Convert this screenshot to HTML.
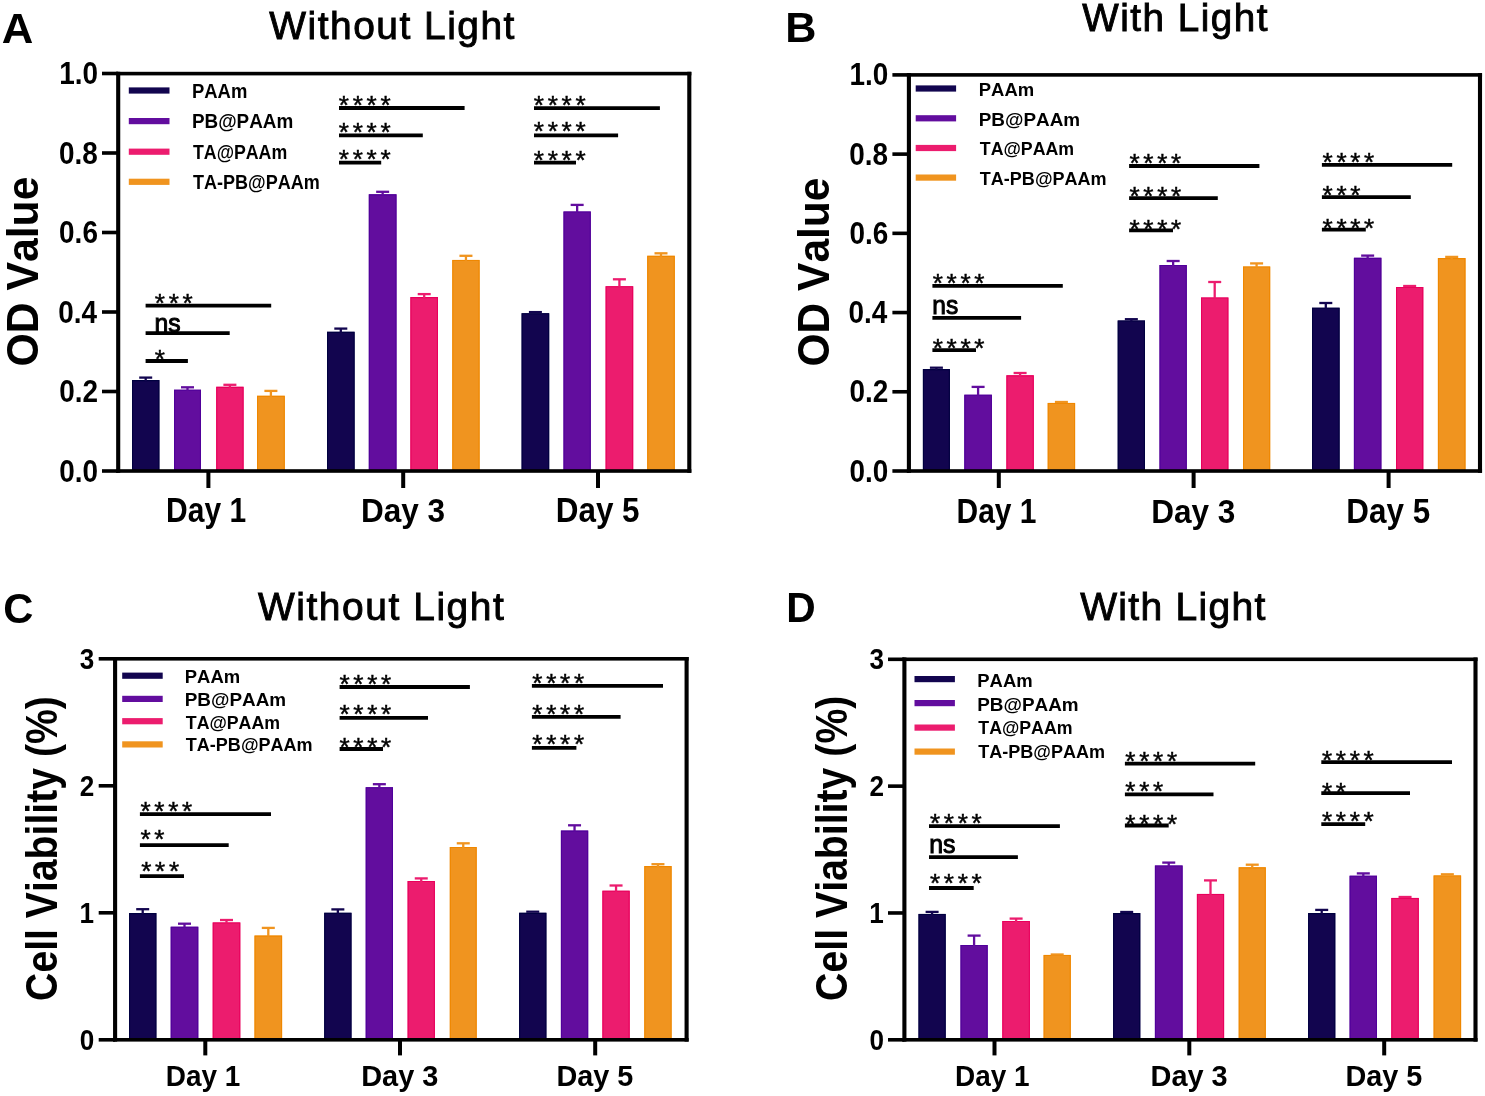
<!DOCTYPE html>
<html><head><meta charset="utf-8"><title>Chart</title>
<style>html,body{margin:0;padding:0;background:#fff;width:1485px;height:1096px;overflow:hidden}
text{font-family:"Liberation Sans",sans-serif;font-kerning:none}</style></head>
<body>
<svg width="1485" height="1096" viewBox="0 0 1485 1096" style="display:block;will-change:transform">
<rect width="1485" height="1096" fill="#fff"/>
<g font-family="Liberation Sans, sans-serif" style="font-kerning:none">
<rect x="132.00" y="380.10" width="27.40" height="90.90" fill="#12054f"/>
<path d="M132.55,471.00 V380.65 H158.85 V471.00" fill="none" stroke="#000040" stroke-width="1.1"/>
<line x1="145.70" y1="377.60" x2="145.70" y2="381.10" stroke="#12054f" stroke-width="2.3" stroke-linecap="butt"/>
<line x1="139.20" y1="377.60" x2="152.20" y2="377.60" stroke="#12054f" stroke-width="2.3" stroke-linecap="butt"/>
<rect x="174.00" y="389.70" width="27.00" height="81.30" fill="#620d9e"/>
<path d="M174.55,471.00 V390.25 H200.45 V471.00" fill="none" stroke="#50009a" stroke-width="1.1"/>
<line x1="187.50" y1="387.30" x2="187.50" y2="390.70" stroke="#620d9e" stroke-width="2.3" stroke-linecap="butt"/>
<line x1="181.00" y1="387.30" x2="194.00" y2="387.30" stroke="#620d9e" stroke-width="2.3" stroke-linecap="butt"/>
<rect x="216.20" y="386.80" width="27.40" height="84.20" fill="#ec1c6e"/>
<path d="M216.75,471.00 V387.35 H243.05 V471.00" fill="none" stroke="#e8005c" stroke-width="1.1"/>
<line x1="229.90" y1="384.80" x2="229.90" y2="387.80" stroke="#ec1c6e" stroke-width="2.3" stroke-linecap="butt"/>
<line x1="223.40" y1="384.80" x2="236.40" y2="384.80" stroke="#ec1c6e" stroke-width="2.3" stroke-linecap="butt"/>
<rect x="257.00" y="395.80" width="27.80" height="75.20" fill="#f0941f"/>
<path d="M257.55,471.00 V396.35 H284.25 V471.00" fill="none" stroke="#ef8700" stroke-width="1.1"/>
<line x1="270.90" y1="390.90" x2="270.90" y2="396.80" stroke="#f0941f" stroke-width="2.3" stroke-linecap="butt"/>
<line x1="264.40" y1="390.90" x2="277.40" y2="390.90" stroke="#f0941f" stroke-width="2.3" stroke-linecap="butt"/>
<rect x="327.00" y="331.80" width="27.60" height="139.20" fill="#12054f"/>
<path d="M327.55,471.00 V332.35 H354.05 V471.00" fill="none" stroke="#000040" stroke-width="1.1"/>
<line x1="340.80" y1="328.60" x2="340.80" y2="332.80" stroke="#12054f" stroke-width="2.3" stroke-linecap="butt"/>
<line x1="334.30" y1="328.60" x2="347.30" y2="328.60" stroke="#12054f" stroke-width="2.3" stroke-linecap="butt"/>
<rect x="368.80" y="194.30" width="27.70" height="276.70" fill="#620d9e"/>
<path d="M369.35,471.00 V194.85 H395.95 V471.00" fill="none" stroke="#50009a" stroke-width="1.1"/>
<line x1="382.65" y1="191.80" x2="382.65" y2="195.30" stroke="#620d9e" stroke-width="2.3" stroke-linecap="butt"/>
<line x1="376.15" y1="191.80" x2="389.15" y2="191.80" stroke="#620d9e" stroke-width="2.3" stroke-linecap="butt"/>
<rect x="410.40" y="297.10" width="27.60" height="173.90" fill="#ec1c6e"/>
<path d="M410.95,471.00 V297.65 H437.45 V471.00" fill="none" stroke="#e8005c" stroke-width="1.1"/>
<line x1="424.20" y1="294.10" x2="424.20" y2="298.10" stroke="#ec1c6e" stroke-width="2.3" stroke-linecap="butt"/>
<line x1="417.70" y1="294.10" x2="430.70" y2="294.10" stroke="#ec1c6e" stroke-width="2.3" stroke-linecap="butt"/>
<rect x="452.30" y="259.90" width="27.30" height="211.10" fill="#f0941f"/>
<path d="M452.85,471.00 V260.45 H479.05 V471.00" fill="none" stroke="#ef8700" stroke-width="1.1"/>
<line x1="465.95" y1="255.80" x2="465.95" y2="260.90" stroke="#f0941f" stroke-width="2.3" stroke-linecap="butt"/>
<line x1="459.45" y1="255.80" x2="472.45" y2="255.80" stroke="#f0941f" stroke-width="2.3" stroke-linecap="butt"/>
<rect x="521.60" y="313.20" width="27.60" height="157.80" fill="#12054f"/>
<path d="M522.15,471.00 V313.75 H548.65 V471.00" fill="none" stroke="#000040" stroke-width="1.1"/>
<line x1="528.90" y1="312.10" x2="541.90" y2="312.10" stroke="#12054f" stroke-width="2.3" stroke-linecap="butt"/>
<rect x="563.50" y="211.50" width="27.30" height="259.50" fill="#620d9e"/>
<path d="M564.05,471.00 V212.05 H590.25 V471.00" fill="none" stroke="#50009a" stroke-width="1.1"/>
<line x1="577.15" y1="204.90" x2="577.15" y2="212.50" stroke="#620d9e" stroke-width="2.3" stroke-linecap="butt"/>
<line x1="570.65" y1="204.90" x2="583.65" y2="204.90" stroke="#620d9e" stroke-width="2.3" stroke-linecap="butt"/>
<rect x="605.60" y="286.20" width="27.60" height="184.80" fill="#ec1c6e"/>
<path d="M606.15,471.00 V286.75 H632.65 V471.00" fill="none" stroke="#e8005c" stroke-width="1.1"/>
<line x1="619.40" y1="279.30" x2="619.40" y2="287.20" stroke="#ec1c6e" stroke-width="2.3" stroke-linecap="butt"/>
<line x1="612.90" y1="279.30" x2="625.90" y2="279.30" stroke="#ec1c6e" stroke-width="2.3" stroke-linecap="butt"/>
<rect x="647.20" y="255.80" width="27.60" height="215.20" fill="#f0941f"/>
<path d="M647.75,471.00 V256.35 H674.25 V471.00" fill="none" stroke="#ef8700" stroke-width="1.1"/>
<line x1="661.00" y1="253.30" x2="661.00" y2="256.80" stroke="#f0941f" stroke-width="2.3" stroke-linecap="butt"/>
<line x1="654.50" y1="253.30" x2="667.50" y2="253.30" stroke="#f0941f" stroke-width="2.3" stroke-linecap="butt"/>
<rect x="116.15" y="71.80" width="575.20" height="3.60" fill="#000"/>
<rect x="116.15" y="469.20" width="575.20" height="3.60" fill="#000"/>
<rect x="116.15" y="71.80" width="4.10" height="401.00" fill="#000"/>
<rect x="687.25" y="71.80" width="4.10" height="401.00" fill="#000"/>
<rect x="102.00" y="469.20" width="16.20" height="3.60" fill="#000"/>
<rect x="102.00" y="389.70" width="16.20" height="3.60" fill="#000"/>
<rect x="102.00" y="310.20" width="16.20" height="3.60" fill="#000"/>
<rect x="102.00" y="230.70" width="16.20" height="3.60" fill="#000"/>
<rect x="102.00" y="151.20" width="16.20" height="3.60" fill="#000"/>
<rect x="102.00" y="71.70" width="16.20" height="3.60" fill="#000"/>
<rect x="206.40" y="471.00" width="4.00" height="17.00" fill="#000"/>
<rect x="401.20" y="471.00" width="4.00" height="17.00" fill="#000"/>
<rect x="596.00" y="471.00" width="4.00" height="17.00" fill="#000"/>
<rect x="128.80" y="87.40" width="40.70" height="6.20" fill="#12054f"/>
<text transform="translate(191.97,97.90) scale(0.9548,1)" font-size="19.33" font-weight="bold">PAAm</text>
<rect x="128.80" y="118.00" width="40.70" height="6.20" fill="#620d9e"/>
<text transform="translate(191.94,128.20) scale(0.9781,1)" font-size="19.33" font-weight="bold">PB@PAAm</text>
<rect x="128.80" y="148.60" width="40.70" height="6.20" fill="#ec1c6e"/>
<text transform="translate(193.00,158.50) scale(0.9189,1)" font-size="19.33" font-weight="bold">TA@PAAm</text>
<rect x="128.80" y="178.70" width="40.70" height="6.20" fill="#f0941f"/>
<text transform="translate(193.00,188.80) scale(0.9331,1)" font-size="19.33" font-weight="bold">TA-PB@PAAm</text>
<line x1="145.60" y1="305.70" x2="271.20" y2="305.70" stroke="#000" stroke-width="3.8" stroke-linecap="butt"/>
<text x="154.83" y="311.78" font-size="26.2" stroke="#000" stroke-width="0.45">*</text>
<text x="168.68" y="311.78" font-size="26.2" stroke="#000" stroke-width="0.45">*</text>
<text x="182.53" y="311.78" font-size="26.2" stroke="#000" stroke-width="0.45">*</text>
<line x1="145.60" y1="333.10" x2="229.70" y2="333.10" stroke="#000" stroke-width="3.8" stroke-linecap="butt"/>
<text transform="translate(154.56,331.70) scale(0.9378,1)" font-size="26.39" font-weight="normal" fill="#000" stroke="#000" stroke-width="1.0">ns</text>
<line x1="145.60" y1="361.00" x2="187.90" y2="361.00" stroke="#000" stroke-width="3.8" stroke-linecap="butt"/>
<text x="154.83" y="368.28" font-size="26.2" stroke="#000" stroke-width="0.45">*</text>
<line x1="339.00" y1="108.00" x2="464.60" y2="108.00" stroke="#000" stroke-width="3.8" stroke-linecap="butt"/>
<text x="338.83" y="113.78" font-size="26.2" stroke="#000" stroke-width="0.45">*</text>
<text x="352.68" y="113.78" font-size="26.2" stroke="#000" stroke-width="0.45">*</text>
<text x="366.53" y="113.78" font-size="26.2" stroke="#000" stroke-width="0.45">*</text>
<text x="380.38" y="113.78" font-size="26.2" stroke="#000" stroke-width="0.45">*</text>
<line x1="339.00" y1="135.40" x2="422.80" y2="135.40" stroke="#000" stroke-width="3.8" stroke-linecap="butt"/>
<text x="338.83" y="140.68" font-size="26.2" stroke="#000" stroke-width="0.45">*</text>
<text x="352.68" y="140.68" font-size="26.2" stroke="#000" stroke-width="0.45">*</text>
<text x="366.53" y="140.68" font-size="26.2" stroke="#000" stroke-width="0.45">*</text>
<text x="380.38" y="140.68" font-size="26.2" stroke="#000" stroke-width="0.45">*</text>
<line x1="339.00" y1="162.70" x2="381.20" y2="162.70" stroke="#000" stroke-width="3.8" stroke-linecap="butt"/>
<text x="338.83" y="168.28" font-size="26.2" stroke="#000" stroke-width="0.45">*</text>
<text x="352.68" y="168.28" font-size="26.2" stroke="#000" stroke-width="0.45">*</text>
<text x="366.53" y="168.28" font-size="26.2" stroke="#000" stroke-width="0.45">*</text>
<text x="380.38" y="168.28" font-size="26.2" stroke="#000" stroke-width="0.45">*</text>
<line x1="534.00" y1="108.10" x2="659.90" y2="108.10" stroke="#000" stroke-width="3.8" stroke-linecap="butt"/>
<text x="533.83" y="113.58" font-size="26.2" stroke="#000" stroke-width="0.45">*</text>
<text x="547.68" y="113.58" font-size="26.2" stroke="#000" stroke-width="0.45">*</text>
<text x="561.53" y="113.58" font-size="26.2" stroke="#000" stroke-width="0.45">*</text>
<text x="575.38" y="113.58" font-size="26.2" stroke="#000" stroke-width="0.45">*</text>
<line x1="534.00" y1="135.30" x2="618.10" y2="135.30" stroke="#000" stroke-width="3.8" stroke-linecap="butt"/>
<text x="533.83" y="140.48" font-size="26.2" stroke="#000" stroke-width="0.45">*</text>
<text x="547.68" y="140.48" font-size="26.2" stroke="#000" stroke-width="0.45">*</text>
<text x="561.53" y="140.48" font-size="26.2" stroke="#000" stroke-width="0.45">*</text>
<text x="575.38" y="140.48" font-size="26.2" stroke="#000" stroke-width="0.45">*</text>
<line x1="534.00" y1="162.70" x2="576.00" y2="162.70" stroke="#000" stroke-width="3.8" stroke-linecap="butt"/>
<text x="533.83" y="168.58" font-size="26.2" stroke="#000" stroke-width="0.45">*</text>
<text x="547.68" y="168.58" font-size="26.2" stroke="#000" stroke-width="0.45">*</text>
<text x="561.53" y="168.58" font-size="26.2" stroke="#000" stroke-width="0.45">*</text>
<text x="575.38" y="168.58" font-size="26.2" stroke="#000" stroke-width="0.45">*</text>
<rect x="922.90" y="369.10" width="27.00" height="101.90" fill="#12054f"/>
<path d="M923.45,471.00 V369.65 H949.35 V471.00" fill="none" stroke="#000040" stroke-width="1.1"/>
<line x1="936.40" y1="367.70" x2="936.40" y2="370.10" stroke="#12054f" stroke-width="2.3" stroke-linecap="butt"/>
<line x1="929.90" y1="367.70" x2="942.90" y2="367.70" stroke="#12054f" stroke-width="2.3" stroke-linecap="butt"/>
<rect x="964.30" y="394.70" width="27.60" height="76.30" fill="#620d9e"/>
<path d="M964.85,471.00 V395.25 H991.35 V471.00" fill="none" stroke="#50009a" stroke-width="1.1"/>
<line x1="978.10" y1="386.90" x2="978.10" y2="395.70" stroke="#620d9e" stroke-width="2.3" stroke-linecap="butt"/>
<line x1="971.60" y1="386.90" x2="984.60" y2="386.90" stroke="#620d9e" stroke-width="2.3" stroke-linecap="butt"/>
<rect x="1006.40" y="375.30" width="27.40" height="95.70" fill="#ec1c6e"/>
<path d="M1006.95,471.00 V375.85 H1033.25 V471.00" fill="none" stroke="#e8005c" stroke-width="1.1"/>
<line x1="1020.10" y1="373.00" x2="1020.10" y2="376.30" stroke="#ec1c6e" stroke-width="2.3" stroke-linecap="butt"/>
<line x1="1013.60" y1="373.00" x2="1026.60" y2="373.00" stroke="#ec1c6e" stroke-width="2.3" stroke-linecap="butt"/>
<rect x="1047.70" y="402.90" width="27.40" height="68.10" fill="#f0941f"/>
<path d="M1048.25,471.00 V403.45 H1074.55 V471.00" fill="none" stroke="#ef8700" stroke-width="1.1"/>
<line x1="1054.90" y1="402.00" x2="1067.90" y2="402.00" stroke="#f0941f" stroke-width="2.3" stroke-linecap="butt"/>
<rect x="1117.70" y="320.50" width="27.30" height="150.50" fill="#12054f"/>
<path d="M1118.25,471.00 V321.05 H1144.45 V471.00" fill="none" stroke="#000040" stroke-width="1.1"/>
<line x1="1131.35" y1="319.20" x2="1131.35" y2="321.50" stroke="#12054f" stroke-width="2.3" stroke-linecap="butt"/>
<line x1="1124.85" y1="319.20" x2="1137.85" y2="319.20" stroke="#12054f" stroke-width="2.3" stroke-linecap="butt"/>
<rect x="1159.50" y="265.00" width="27.30" height="206.00" fill="#620d9e"/>
<path d="M1160.05,471.00 V265.55 H1186.25 V471.00" fill="none" stroke="#50009a" stroke-width="1.1"/>
<line x1="1173.15" y1="261.00" x2="1173.15" y2="266.00" stroke="#620d9e" stroke-width="2.3" stroke-linecap="butt"/>
<line x1="1166.65" y1="261.00" x2="1179.65" y2="261.00" stroke="#620d9e" stroke-width="2.3" stroke-linecap="butt"/>
<rect x="1201.00" y="297.50" width="27.40" height="173.50" fill="#ec1c6e"/>
<path d="M1201.55,471.00 V298.05 H1227.85 V471.00" fill="none" stroke="#e8005c" stroke-width="1.1"/>
<line x1="1214.70" y1="282.00" x2="1214.70" y2="298.50" stroke="#ec1c6e" stroke-width="2.3" stroke-linecap="butt"/>
<line x1="1208.20" y1="282.00" x2="1221.20" y2="282.00" stroke="#ec1c6e" stroke-width="2.3" stroke-linecap="butt"/>
<rect x="1243.00" y="266.50" width="27.20" height="204.50" fill="#f0941f"/>
<path d="M1243.55,471.00 V267.05 H1269.65 V471.00" fill="none" stroke="#ef8700" stroke-width="1.1"/>
<line x1="1256.60" y1="263.40" x2="1256.60" y2="267.50" stroke="#f0941f" stroke-width="2.3" stroke-linecap="butt"/>
<line x1="1250.10" y1="263.40" x2="1263.10" y2="263.40" stroke="#f0941f" stroke-width="2.3" stroke-linecap="butt"/>
<rect x="1312.00" y="307.70" width="27.60" height="163.30" fill="#12054f"/>
<path d="M1312.55,471.00 V308.25 H1339.05 V471.00" fill="none" stroke="#000040" stroke-width="1.1"/>
<line x1="1325.80" y1="303.00" x2="1325.80" y2="308.70" stroke="#12054f" stroke-width="2.3" stroke-linecap="butt"/>
<line x1="1319.30" y1="303.00" x2="1332.30" y2="303.00" stroke="#12054f" stroke-width="2.3" stroke-linecap="butt"/>
<rect x="1353.90" y="257.80" width="27.50" height="213.20" fill="#620d9e"/>
<path d="M1354.45,471.00 V258.35 H1380.85 V471.00" fill="none" stroke="#50009a" stroke-width="1.1"/>
<line x1="1367.65" y1="255.60" x2="1367.65" y2="258.80" stroke="#620d9e" stroke-width="2.3" stroke-linecap="butt"/>
<line x1="1361.15" y1="255.60" x2="1374.15" y2="255.60" stroke="#620d9e" stroke-width="2.3" stroke-linecap="butt"/>
<rect x="1396.00" y="287.00" width="27.30" height="184.00" fill="#ec1c6e"/>
<path d="M1396.55,471.00 V287.55 H1422.75 V471.00" fill="none" stroke="#e8005c" stroke-width="1.1"/>
<line x1="1403.15" y1="286.00" x2="1416.15" y2="286.00" stroke="#ec1c6e" stroke-width="2.3" stroke-linecap="butt"/>
<rect x="1437.90" y="258.10" width="27.60" height="212.90" fill="#f0941f"/>
<path d="M1438.45,471.00 V258.65 H1464.95 V471.00" fill="none" stroke="#ef8700" stroke-width="1.1"/>
<line x1="1451.70" y1="256.90" x2="1451.70" y2="259.10" stroke="#f0941f" stroke-width="2.3" stroke-linecap="butt"/>
<line x1="1445.20" y1="256.90" x2="1458.20" y2="256.90" stroke="#f0941f" stroke-width="2.3" stroke-linecap="butt"/>
<rect x="906.85" y="73.10" width="575.20" height="3.60" fill="#000"/>
<rect x="906.85" y="469.20" width="575.20" height="3.60" fill="#000"/>
<rect x="906.85" y="73.10" width="4.10" height="399.70" fill="#000"/>
<rect x="1477.95" y="73.10" width="4.10" height="399.70" fill="#000"/>
<rect x="892.40" y="469.20" width="16.50" height="3.60" fill="#000"/>
<rect x="892.40" y="389.98" width="16.50" height="3.60" fill="#000"/>
<rect x="892.40" y="310.76" width="16.50" height="3.60" fill="#000"/>
<rect x="892.40" y="231.54" width="16.50" height="3.60" fill="#000"/>
<rect x="892.40" y="152.32" width="16.50" height="3.60" fill="#000"/>
<rect x="892.40" y="73.10" width="16.50" height="3.60" fill="#000"/>
<rect x="996.80" y="471.00" width="4.00" height="17.00" fill="#000"/>
<rect x="1191.60" y="471.00" width="4.00" height="17.00" fill="#000"/>
<rect x="1386.60" y="471.00" width="4.00" height="17.00" fill="#000"/>
<rect x="915.70" y="85.40" width="40.40" height="6.20" fill="#12054f"/>
<text transform="translate(978.77,95.80) scale(0.9620,1)" font-size="19.19" font-weight="bold">PAAm</text>
<rect x="915.70" y="115.20" width="40.40" height="6.20" fill="#620d9e"/>
<text transform="translate(978.74,125.50) scale(0.9855,1)" font-size="19.19" font-weight="bold">PB@PAAm</text>
<rect x="915.70" y="144.90" width="40.40" height="6.20" fill="#ec1c6e"/>
<text transform="translate(979.80,155.20) scale(0.9259,1)" font-size="19.19" font-weight="bold">TA@PAAm</text>
<rect x="915.70" y="174.50" width="40.40" height="6.20" fill="#f0941f"/>
<text transform="translate(979.80,184.90) scale(0.9402,1)" font-size="19.19" font-weight="bold">TA-PB@PAAm</text>
<line x1="932.40" y1="285.90" x2="1062.80" y2="285.90" stroke="#000" stroke-width="3.8" stroke-linecap="butt"/>
<text x="932.73" y="291.78" font-size="26.2" stroke="#000" stroke-width="0.45">*</text>
<text x="946.58" y="291.78" font-size="26.2" stroke="#000" stroke-width="0.45">*</text>
<text x="960.43" y="291.78" font-size="26.2" stroke="#000" stroke-width="0.45">*</text>
<text x="974.28" y="291.78" font-size="26.2" stroke="#000" stroke-width="0.45">*</text>
<line x1="932.40" y1="317.80" x2="1021.10" y2="317.80" stroke="#000" stroke-width="3.8" stroke-linecap="butt"/>
<text transform="translate(932.37,313.90) scale(0.9233,1)" font-size="26.58" font-weight="normal" fill="#000" stroke="#000" stroke-width="1.0">ns</text>
<line x1="932.40" y1="350.20" x2="976.00" y2="350.20" stroke="#000" stroke-width="3.8" stroke-linecap="butt"/>
<text x="932.73" y="356.98" font-size="26.2" stroke="#000" stroke-width="0.45">*</text>
<text x="946.58" y="356.98" font-size="26.2" stroke="#000" stroke-width="0.45">*</text>
<text x="960.43" y="356.98" font-size="26.2" stroke="#000" stroke-width="0.45">*</text>
<text x="974.28" y="356.98" font-size="26.2" stroke="#000" stroke-width="0.45">*</text>
<line x1="1129.10" y1="166.00" x2="1259.40" y2="166.00" stroke="#000" stroke-width="3.8" stroke-linecap="butt"/>
<text x="1129.43" y="172.38" font-size="26.2" stroke="#000" stroke-width="0.45">*</text>
<text x="1143.28" y="172.38" font-size="26.2" stroke="#000" stroke-width="0.45">*</text>
<text x="1157.13" y="172.38" font-size="26.2" stroke="#000" stroke-width="0.45">*</text>
<text x="1170.98" y="172.38" font-size="26.2" stroke="#000" stroke-width="0.45">*</text>
<line x1="1129.10" y1="198.20" x2="1217.80" y2="198.20" stroke="#000" stroke-width="3.8" stroke-linecap="butt"/>
<text x="1129.43" y="205.28" font-size="26.2" stroke="#000" stroke-width="0.45">*</text>
<text x="1143.28" y="205.28" font-size="26.2" stroke="#000" stroke-width="0.45">*</text>
<text x="1157.13" y="205.28" font-size="26.2" stroke="#000" stroke-width="0.45">*</text>
<text x="1170.98" y="205.28" font-size="26.2" stroke="#000" stroke-width="0.45">*</text>
<line x1="1129.10" y1="230.40" x2="1173.00" y2="230.40" stroke="#000" stroke-width="3.8" stroke-linecap="butt"/>
<text x="1129.43" y="238.08" font-size="26.2" stroke="#000" stroke-width="0.45">*</text>
<text x="1143.28" y="238.08" font-size="26.2" stroke="#000" stroke-width="0.45">*</text>
<text x="1157.13" y="238.08" font-size="26.2" stroke="#000" stroke-width="0.45">*</text>
<text x="1170.98" y="238.08" font-size="26.2" stroke="#000" stroke-width="0.45">*</text>
<line x1="1321.90" y1="164.90" x2="1452.20" y2="164.90" stroke="#000" stroke-width="3.8" stroke-linecap="butt"/>
<text x="1322.53" y="171.18" font-size="26.2" stroke="#000" stroke-width="0.45">*</text>
<text x="1336.38" y="171.18" font-size="26.2" stroke="#000" stroke-width="0.45">*</text>
<text x="1350.23" y="171.18" font-size="26.2" stroke="#000" stroke-width="0.45">*</text>
<text x="1364.08" y="171.18" font-size="26.2" stroke="#000" stroke-width="0.45">*</text>
<line x1="1321.90" y1="197.10" x2="1410.80" y2="197.10" stroke="#000" stroke-width="3.8" stroke-linecap="butt"/>
<text x="1322.53" y="204.38" font-size="26.2" stroke="#000" stroke-width="0.45">*</text>
<text x="1336.38" y="204.38" font-size="26.2" stroke="#000" stroke-width="0.45">*</text>
<text x="1350.23" y="204.38" font-size="26.2" stroke="#000" stroke-width="0.45">*</text>
<line x1="1321.90" y1="229.60" x2="1365.80" y2="229.60" stroke="#000" stroke-width="3.8" stroke-linecap="butt"/>
<text x="1322.53" y="236.98" font-size="26.2" stroke="#000" stroke-width="0.45">*</text>
<text x="1336.38" y="236.98" font-size="26.2" stroke="#000" stroke-width="0.45">*</text>
<text x="1350.23" y="236.98" font-size="26.2" stroke="#000" stroke-width="0.45">*</text>
<text x="1364.08" y="236.98" font-size="26.2" stroke="#000" stroke-width="0.45">*</text>
<rect x="129.00" y="913.10" width="27.40" height="126.70" fill="#12054f"/>
<path d="M129.55,1039.80 V913.65 H155.85 V1039.80" fill="none" stroke="#000040" stroke-width="1.1"/>
<line x1="142.70" y1="909.20" x2="142.70" y2="914.10" stroke="#12054f" stroke-width="2.3" stroke-linecap="butt"/>
<line x1="136.20" y1="909.20" x2="149.20" y2="909.20" stroke="#12054f" stroke-width="2.3" stroke-linecap="butt"/>
<rect x="170.70" y="926.70" width="27.60" height="113.10" fill="#620d9e"/>
<path d="M171.25,1039.80 V927.25 H197.75 V1039.80" fill="none" stroke="#50009a" stroke-width="1.1"/>
<line x1="184.50" y1="923.70" x2="184.50" y2="927.70" stroke="#620d9e" stroke-width="2.3" stroke-linecap="butt"/>
<line x1="178.00" y1="923.70" x2="191.00" y2="923.70" stroke="#620d9e" stroke-width="2.3" stroke-linecap="butt"/>
<rect x="212.70" y="922.40" width="27.60" height="117.40" fill="#ec1c6e"/>
<path d="M213.25,1039.80 V922.95 H239.75 V1039.80" fill="none" stroke="#e8005c" stroke-width="1.1"/>
<line x1="226.50" y1="920.00" x2="226.50" y2="923.40" stroke="#ec1c6e" stroke-width="2.3" stroke-linecap="butt"/>
<line x1="220.00" y1="920.00" x2="233.00" y2="920.00" stroke="#ec1c6e" stroke-width="2.3" stroke-linecap="butt"/>
<rect x="254.50" y="935.60" width="27.60" height="104.20" fill="#f0941f"/>
<path d="M255.05,1039.80 V936.15 H281.55 V1039.80" fill="none" stroke="#ef8700" stroke-width="1.1"/>
<line x1="268.30" y1="927.90" x2="268.30" y2="936.60" stroke="#f0941f" stroke-width="2.3" stroke-linecap="butt"/>
<line x1="261.80" y1="927.90" x2="274.80" y2="927.90" stroke="#f0941f" stroke-width="2.3" stroke-linecap="butt"/>
<rect x="324.20" y="912.80" width="27.30" height="127.00" fill="#12054f"/>
<path d="M324.75,1039.80 V913.35 H350.95 V1039.80" fill="none" stroke="#000040" stroke-width="1.1"/>
<line x1="337.85" y1="909.40" x2="337.85" y2="913.80" stroke="#12054f" stroke-width="2.3" stroke-linecap="butt"/>
<line x1="331.35" y1="909.40" x2="344.35" y2="909.40" stroke="#12054f" stroke-width="2.3" stroke-linecap="butt"/>
<rect x="365.70" y="787.20" width="27.30" height="252.60" fill="#620d9e"/>
<path d="M366.25,1039.80 V787.75 H392.45 V1039.80" fill="none" stroke="#50009a" stroke-width="1.1"/>
<line x1="379.35" y1="784.20" x2="379.35" y2="788.20" stroke="#620d9e" stroke-width="2.3" stroke-linecap="butt"/>
<line x1="372.85" y1="784.20" x2="385.85" y2="784.20" stroke="#620d9e" stroke-width="2.3" stroke-linecap="butt"/>
<rect x="407.60" y="881.00" width="27.30" height="158.80" fill="#ec1c6e"/>
<path d="M408.15,1039.80 V881.55 H434.35 V1039.80" fill="none" stroke="#e8005c" stroke-width="1.1"/>
<line x1="421.25" y1="878.40" x2="421.25" y2="882.00" stroke="#ec1c6e" stroke-width="2.3" stroke-linecap="butt"/>
<line x1="414.75" y1="878.40" x2="427.75" y2="878.40" stroke="#ec1c6e" stroke-width="2.3" stroke-linecap="butt"/>
<rect x="449.80" y="847.00" width="26.90" height="192.80" fill="#f0941f"/>
<path d="M450.35,1039.80 V847.55 H476.15 V1039.80" fill="none" stroke="#ef8700" stroke-width="1.1"/>
<line x1="463.25" y1="843.30" x2="463.25" y2="848.00" stroke="#f0941f" stroke-width="2.3" stroke-linecap="butt"/>
<line x1="456.75" y1="843.30" x2="469.75" y2="843.30" stroke="#f0941f" stroke-width="2.3" stroke-linecap="butt"/>
<rect x="519.10" y="912.80" width="27.30" height="127.00" fill="#12054f"/>
<path d="M519.65,1039.80 V913.35 H545.85 V1039.80" fill="none" stroke="#000040" stroke-width="1.1"/>
<line x1="526.25" y1="911.70" x2="539.25" y2="911.70" stroke="#12054f" stroke-width="2.3" stroke-linecap="butt"/>
<rect x="560.90" y="830.60" width="27.30" height="209.20" fill="#620d9e"/>
<path d="M561.45,1039.80 V831.15 H587.65 V1039.80" fill="none" stroke="#50009a" stroke-width="1.1"/>
<line x1="574.55" y1="825.30" x2="574.55" y2="831.60" stroke="#620d9e" stroke-width="2.3" stroke-linecap="butt"/>
<line x1="568.05" y1="825.30" x2="581.05" y2="825.30" stroke="#620d9e" stroke-width="2.3" stroke-linecap="butt"/>
<rect x="602.40" y="890.70" width="27.30" height="149.10" fill="#ec1c6e"/>
<path d="M602.95,1039.80 V891.25 H629.15 V1039.80" fill="none" stroke="#e8005c" stroke-width="1.1"/>
<line x1="616.05" y1="885.50" x2="616.05" y2="891.70" stroke="#ec1c6e" stroke-width="2.3" stroke-linecap="butt"/>
<line x1="609.55" y1="885.50" x2="622.55" y2="885.50" stroke="#ec1c6e" stroke-width="2.3" stroke-linecap="butt"/>
<rect x="644.30" y="866.10" width="27.30" height="173.70" fill="#f0941f"/>
<path d="M644.85,1039.80 V866.65 H671.05 V1039.80" fill="none" stroke="#ef8700" stroke-width="1.1"/>
<line x1="657.95" y1="864.20" x2="657.95" y2="867.10" stroke="#f0941f" stroke-width="2.3" stroke-linecap="butt"/>
<line x1="651.45" y1="864.20" x2="664.45" y2="864.20" stroke="#f0941f" stroke-width="2.3" stroke-linecap="butt"/>
<rect x="113.05" y="657.00" width="575.60" height="3.60" fill="#000"/>
<rect x="113.05" y="1038.00" width="575.60" height="3.60" fill="#000"/>
<rect x="113.05" y="657.00" width="4.10" height="384.60" fill="#000"/>
<rect x="684.55" y="657.00" width="4.10" height="384.60" fill="#000"/>
<rect x="98.70" y="1038.00" width="16.40" height="3.60" fill="#000"/>
<rect x="98.70" y="911.00" width="16.40" height="3.60" fill="#000"/>
<rect x="98.70" y="784.00" width="16.40" height="3.60" fill="#000"/>
<rect x="98.70" y="657.00" width="16.40" height="3.60" fill="#000"/>
<rect x="203.30" y="1039.80" width="4.00" height="15.60" fill="#000"/>
<rect x="398.00" y="1039.80" width="4.00" height="15.60" fill="#000"/>
<rect x="593.20" y="1039.80" width="4.00" height="15.60" fill="#000"/>
<rect x="122.20" y="672.60" width="40.50" height="6.20" fill="#12054f"/>
<text transform="translate(184.77,682.90) scale(1.0324,1)" font-size="17.88" font-weight="bold">PAAm</text>
<rect x="122.20" y="695.80" width="40.50" height="6.20" fill="#620d9e"/>
<text transform="translate(184.74,705.70) scale(1.0576,1)" font-size="17.88" font-weight="bold">PB@PAAm</text>
<rect x="122.20" y="718.10" width="40.50" height="6.20" fill="#ec1c6e"/>
<text transform="translate(185.80,728.50) scale(0.9936,1)" font-size="17.88" font-weight="bold">TA@PAAm</text>
<rect x="122.20" y="741.30" width="40.50" height="6.20" fill="#f0941f"/>
<text transform="translate(185.80,751.30) scale(1.0090,1)" font-size="17.88" font-weight="bold">TA-PB@PAAm</text>
<line x1="139.90" y1="814.10" x2="271.00" y2="814.10" stroke="#000" stroke-width="3.8" stroke-linecap="butt"/>
<text x="140.43" y="820.38" font-size="26.2" stroke="#000" stroke-width="0.45">*</text>
<text x="154.28" y="820.38" font-size="26.2" stroke="#000" stroke-width="0.45">*</text>
<text x="168.13" y="820.38" font-size="26.2" stroke="#000" stroke-width="0.45">*</text>
<text x="181.98" y="820.38" font-size="26.2" stroke="#000" stroke-width="0.45">*</text>
<line x1="139.90" y1="845.20" x2="228.70" y2="845.20" stroke="#000" stroke-width="3.8" stroke-linecap="butt"/>
<text x="140.43" y="848.18" font-size="26.2" stroke="#000" stroke-width="0.45">*</text>
<text x="154.28" y="848.18" font-size="26.2" stroke="#000" stroke-width="0.45">*</text>
<line x1="139.90" y1="876.20" x2="184.00" y2="876.20" stroke="#000" stroke-width="3.8" stroke-linecap="butt"/>
<text x="141.23" y="880.28" font-size="26.2" stroke="#000" stroke-width="0.45">*</text>
<text x="155.08" y="880.28" font-size="26.2" stroke="#000" stroke-width="0.45">*</text>
<text x="168.93" y="880.28" font-size="26.2" stroke="#000" stroke-width="0.45">*</text>
<line x1="339.60" y1="687.00" x2="469.90" y2="687.00" stroke="#000" stroke-width="3.8" stroke-linecap="butt"/>
<text x="339.43" y="693.18" font-size="26.2" stroke="#000" stroke-width="0.45">*</text>
<text x="353.28" y="693.18" font-size="26.2" stroke="#000" stroke-width="0.45">*</text>
<text x="367.13" y="693.18" font-size="26.2" stroke="#000" stroke-width="0.45">*</text>
<text x="380.98" y="693.18" font-size="26.2" stroke="#000" stroke-width="0.45">*</text>
<line x1="339.60" y1="717.80" x2="428.00" y2="717.80" stroke="#000" stroke-width="3.8" stroke-linecap="butt"/>
<text x="339.43" y="723.48" font-size="26.2" stroke="#000" stroke-width="0.45">*</text>
<text x="353.28" y="723.48" font-size="26.2" stroke="#000" stroke-width="0.45">*</text>
<text x="367.13" y="723.48" font-size="26.2" stroke="#000" stroke-width="0.45">*</text>
<text x="380.98" y="723.48" font-size="26.2" stroke="#000" stroke-width="0.45">*</text>
<line x1="339.60" y1="749.00" x2="383.00" y2="749.00" stroke="#000" stroke-width="3.8" stroke-linecap="butt"/>
<text x="339.43" y="755.98" font-size="26.2" stroke="#000" stroke-width="0.45">*</text>
<text x="353.28" y="755.98" font-size="26.2" stroke="#000" stroke-width="0.45">*</text>
<text x="367.13" y="755.98" font-size="26.2" stroke="#000" stroke-width="0.45">*</text>
<text x="380.98" y="755.98" font-size="26.2" stroke="#000" stroke-width="0.45">*</text>
<line x1="531.90" y1="685.80" x2="663.00" y2="685.80" stroke="#000" stroke-width="3.8" stroke-linecap="butt"/>
<text x="532.33" y="691.88" font-size="26.2" stroke="#000" stroke-width="0.45">*</text>
<text x="546.18" y="691.88" font-size="26.2" stroke="#000" stroke-width="0.45">*</text>
<text x="560.03" y="691.88" font-size="26.2" stroke="#000" stroke-width="0.45">*</text>
<text x="573.88" y="691.88" font-size="26.2" stroke="#000" stroke-width="0.45">*</text>
<line x1="531.90" y1="716.80" x2="620.60" y2="716.80" stroke="#000" stroke-width="3.8" stroke-linecap="butt"/>
<text x="532.33" y="723.38" font-size="26.2" stroke="#000" stroke-width="0.45">*</text>
<text x="546.18" y="723.38" font-size="26.2" stroke="#000" stroke-width="0.45">*</text>
<text x="560.03" y="723.38" font-size="26.2" stroke="#000" stroke-width="0.45">*</text>
<text x="573.88" y="723.38" font-size="26.2" stroke="#000" stroke-width="0.45">*</text>
<line x1="531.90" y1="747.80" x2="576.40" y2="747.80" stroke="#000" stroke-width="3.8" stroke-linecap="butt"/>
<text x="532.33" y="752.78" font-size="26.2" stroke="#000" stroke-width="0.45">*</text>
<text x="546.18" y="752.78" font-size="26.2" stroke="#000" stroke-width="0.45">*</text>
<text x="560.03" y="752.78" font-size="26.2" stroke="#000" stroke-width="0.45">*</text>
<text x="573.88" y="752.78" font-size="26.2" stroke="#000" stroke-width="0.45">*</text>
<rect x="918.50" y="913.90" width="27.20" height="125.90" fill="#12054f"/>
<path d="M919.05,1039.80 V914.45 H945.15 V1039.80" fill="none" stroke="#000040" stroke-width="1.1"/>
<line x1="932.10" y1="911.90" x2="932.10" y2="914.90" stroke="#12054f" stroke-width="2.3" stroke-linecap="butt"/>
<line x1="925.60" y1="911.90" x2="938.60" y2="911.90" stroke="#12054f" stroke-width="2.3" stroke-linecap="butt"/>
<rect x="960.50" y="945.00" width="27.20" height="94.80" fill="#620d9e"/>
<path d="M961.05,1039.80 V945.55 H987.15 V1039.80" fill="none" stroke="#50009a" stroke-width="1.1"/>
<line x1="974.10" y1="935.60" x2="974.10" y2="946.00" stroke="#620d9e" stroke-width="2.3" stroke-linecap="butt"/>
<line x1="967.60" y1="935.60" x2="980.60" y2="935.60" stroke="#620d9e" stroke-width="2.3" stroke-linecap="butt"/>
<rect x="1002.30" y="921.00" width="27.60" height="118.80" fill="#ec1c6e"/>
<path d="M1002.85,1039.80 V921.55 H1029.35 V1039.80" fill="none" stroke="#e8005c" stroke-width="1.1"/>
<line x1="1016.10" y1="918.60" x2="1016.10" y2="922.00" stroke="#ec1c6e" stroke-width="2.3" stroke-linecap="butt"/>
<line x1="1009.60" y1="918.60" x2="1022.60" y2="918.60" stroke="#ec1c6e" stroke-width="2.3" stroke-linecap="butt"/>
<rect x="1043.60" y="954.90" width="27.20" height="84.90" fill="#f0941f"/>
<path d="M1044.15,1039.80 V955.45 H1070.25 V1039.80" fill="none" stroke="#ef8700" stroke-width="1.1"/>
<line x1="1050.70" y1="954.50" x2="1063.70" y2="954.50" stroke="#f0941f" stroke-width="2.3" stroke-linecap="butt"/>
<rect x="1113.10" y="913.10" width="27.20" height="126.70" fill="#12054f"/>
<path d="M1113.65,1039.80 V913.65 H1139.75 V1039.80" fill="none" stroke="#000040" stroke-width="1.1"/>
<line x1="1120.20" y1="912.00" x2="1133.20" y2="912.00" stroke="#12054f" stroke-width="2.3" stroke-linecap="butt"/>
<rect x="1154.90" y="865.50" width="27.70" height="174.30" fill="#620d9e"/>
<path d="M1155.45,1039.80 V866.05 H1182.05 V1039.80" fill="none" stroke="#50009a" stroke-width="1.1"/>
<line x1="1168.75" y1="862.60" x2="1168.75" y2="866.50" stroke="#620d9e" stroke-width="2.3" stroke-linecap="butt"/>
<line x1="1162.25" y1="862.60" x2="1175.25" y2="862.60" stroke="#620d9e" stroke-width="2.3" stroke-linecap="butt"/>
<rect x="1196.90" y="893.90" width="27.20" height="145.90" fill="#ec1c6e"/>
<path d="M1197.45,1039.80 V894.45 H1223.55 V1039.80" fill="none" stroke="#e8005c" stroke-width="1.1"/>
<line x1="1210.50" y1="880.40" x2="1210.50" y2="894.90" stroke="#ec1c6e" stroke-width="2.3" stroke-linecap="butt"/>
<line x1="1204.00" y1="880.40" x2="1217.00" y2="880.40" stroke="#ec1c6e" stroke-width="2.3" stroke-linecap="butt"/>
<rect x="1238.70" y="867.30" width="27.10" height="172.50" fill="#f0941f"/>
<path d="M1239.25,1039.80 V867.85 H1265.25 V1039.80" fill="none" stroke="#ef8700" stroke-width="1.1"/>
<line x1="1252.25" y1="864.70" x2="1252.25" y2="868.30" stroke="#f0941f" stroke-width="2.3" stroke-linecap="butt"/>
<line x1="1245.75" y1="864.70" x2="1258.75" y2="864.70" stroke="#f0941f" stroke-width="2.3" stroke-linecap="butt"/>
<rect x="1308.10" y="913.10" width="27.20" height="126.70" fill="#12054f"/>
<path d="M1308.65,1039.80 V913.65 H1334.75 V1039.80" fill="none" stroke="#000040" stroke-width="1.1"/>
<line x1="1321.70" y1="909.90" x2="1321.70" y2="914.10" stroke="#12054f" stroke-width="2.3" stroke-linecap="butt"/>
<line x1="1315.20" y1="909.90" x2="1328.20" y2="909.90" stroke="#12054f" stroke-width="2.3" stroke-linecap="butt"/>
<rect x="1349.60" y="875.70" width="27.40" height="164.10" fill="#620d9e"/>
<path d="M1350.15,1039.80 V876.25 H1376.45 V1039.80" fill="none" stroke="#50009a" stroke-width="1.1"/>
<line x1="1363.30" y1="873.40" x2="1363.30" y2="876.70" stroke="#620d9e" stroke-width="2.3" stroke-linecap="butt"/>
<line x1="1356.80" y1="873.40" x2="1369.80" y2="873.40" stroke="#620d9e" stroke-width="2.3" stroke-linecap="butt"/>
<rect x="1391.30" y="897.90" width="27.50" height="141.90" fill="#ec1c6e"/>
<path d="M1391.85,1039.80 V898.45 H1418.25 V1039.80" fill="none" stroke="#e8005c" stroke-width="1.1"/>
<line x1="1398.55" y1="897.00" x2="1411.55" y2="897.00" stroke="#ec1c6e" stroke-width="2.3" stroke-linecap="butt"/>
<rect x="1433.60" y="875.40" width="27.50" height="164.40" fill="#f0941f"/>
<path d="M1434.15,1039.80 V875.95 H1460.55 V1039.80" fill="none" stroke="#ef8700" stroke-width="1.1"/>
<line x1="1440.85" y1="874.30" x2="1453.85" y2="874.30" stroke="#f0941f" stroke-width="2.3" stroke-linecap="butt"/>
<rect x="902.35" y="657.50" width="575.20" height="3.60" fill="#000"/>
<rect x="902.35" y="1038.00" width="575.20" height="3.60" fill="#000"/>
<rect x="902.35" y="657.50" width="4.10" height="384.10" fill="#000"/>
<rect x="1473.45" y="657.50" width="4.10" height="384.10" fill="#000"/>
<rect x="888.00" y="1038.00" width="16.40" height="3.60" fill="#000"/>
<rect x="888.00" y="911.17" width="16.40" height="3.60" fill="#000"/>
<rect x="888.00" y="784.34" width="16.40" height="3.60" fill="#000"/>
<rect x="888.00" y="657.51" width="16.40" height="3.60" fill="#000"/>
<rect x="992.50" y="1039.80" width="4.00" height="15.60" fill="#000"/>
<rect x="1187.30" y="1039.80" width="4.00" height="15.60" fill="#000"/>
<rect x="1382.20" y="1039.80" width="4.00" height="15.60" fill="#000"/>
<rect x="914.50" y="676.00" width="40.40" height="6.20" fill="#12054f"/>
<text transform="translate(977.27,686.80) scale(1.0241,1)" font-size="18.02" font-weight="bold">PAAm</text>
<rect x="914.50" y="700.00" width="40.40" height="6.20" fill="#620d9e"/>
<text transform="translate(977.24,710.60) scale(1.0491,1)" font-size="18.02" font-weight="bold">PB@PAAm</text>
<rect x="914.50" y="724.50" width="40.40" height="6.20" fill="#ec1c6e"/>
<text transform="translate(978.30,734.40) scale(0.9856,1)" font-size="18.02" font-weight="bold">TA@PAAm</text>
<rect x="914.50" y="748.50" width="40.40" height="6.20" fill="#f0941f"/>
<text transform="translate(978.30,758.20) scale(1.0008,1)" font-size="18.02" font-weight="bold">TA-PB@PAAm</text>
<line x1="929.00" y1="826.10" x2="1059.90" y2="826.10" stroke="#000" stroke-width="3.8" stroke-linecap="butt"/>
<text x="929.93" y="832.28" font-size="26.2" stroke="#000" stroke-width="0.45">*</text>
<text x="943.78" y="832.28" font-size="26.2" stroke="#000" stroke-width="0.45">*</text>
<text x="957.63" y="832.28" font-size="26.2" stroke="#000" stroke-width="0.45">*</text>
<text x="971.48" y="832.28" font-size="26.2" stroke="#000" stroke-width="0.45">*</text>
<line x1="929.00" y1="857.10" x2="1017.90" y2="857.10" stroke="#000" stroke-width="3.8" stroke-linecap="butt"/>
<text transform="translate(929.25,853.00) scale(0.9621,1)" font-size="25.83" font-weight="normal" fill="#000" stroke="#000" stroke-width="1.0">ns</text>
<line x1="929.00" y1="888.00" x2="973.70" y2="888.00" stroke="#000" stroke-width="3.8" stroke-linecap="butt"/>
<text x="929.93" y="892.08" font-size="26.2" stroke="#000" stroke-width="0.45">*</text>
<text x="943.78" y="892.08" font-size="26.2" stroke="#000" stroke-width="0.45">*</text>
<text x="957.63" y="892.08" font-size="26.2" stroke="#000" stroke-width="0.45">*</text>
<text x="971.48" y="892.08" font-size="26.2" stroke="#000" stroke-width="0.45">*</text>
<line x1="1124.90" y1="763.60" x2="1255.20" y2="763.60" stroke="#000" stroke-width="3.8" stroke-linecap="butt"/>
<text x="1125.33" y="769.88" font-size="26.2" stroke="#000" stroke-width="0.45">*</text>
<text x="1139.18" y="769.88" font-size="26.2" stroke="#000" stroke-width="0.45">*</text>
<text x="1153.03" y="769.88" font-size="26.2" stroke="#000" stroke-width="0.45">*</text>
<text x="1166.88" y="769.88" font-size="26.2" stroke="#000" stroke-width="0.45">*</text>
<line x1="1124.90" y1="794.40" x2="1213.50" y2="794.40" stroke="#000" stroke-width="3.8" stroke-linecap="butt"/>
<text x="1125.33" y="799.68" font-size="26.2" stroke="#000" stroke-width="0.45">*</text>
<text x="1139.18" y="799.68" font-size="26.2" stroke="#000" stroke-width="0.45">*</text>
<text x="1153.03" y="799.68" font-size="26.2" stroke="#000" stroke-width="0.45">*</text>
<line x1="1124.90" y1="825.50" x2="1168.70" y2="825.50" stroke="#000" stroke-width="3.8" stroke-linecap="butt"/>
<text x="1125.33" y="832.78" font-size="26.2" stroke="#000" stroke-width="0.45">*</text>
<text x="1139.18" y="832.78" font-size="26.2" stroke="#000" stroke-width="0.45">*</text>
<text x="1153.03" y="832.78" font-size="26.2" stroke="#000" stroke-width="0.45">*</text>
<text x="1166.88" y="832.78" font-size="26.2" stroke="#000" stroke-width="0.45">*</text>
<line x1="1321.30" y1="762.20" x2="1452.00" y2="762.20" stroke="#000" stroke-width="3.8" stroke-linecap="butt"/>
<text x="1321.93" y="768.88" font-size="26.2" stroke="#000" stroke-width="0.45">*</text>
<text x="1335.78" y="768.88" font-size="26.2" stroke="#000" stroke-width="0.45">*</text>
<text x="1349.63" y="768.88" font-size="26.2" stroke="#000" stroke-width="0.45">*</text>
<text x="1363.48" y="768.88" font-size="26.2" stroke="#000" stroke-width="0.45">*</text>
<line x1="1321.30" y1="793.10" x2="1410.00" y2="793.10" stroke="#000" stroke-width="3.8" stroke-linecap="butt"/>
<text x="1321.93" y="800.88" font-size="26.2" stroke="#000" stroke-width="0.45">*</text>
<text x="1335.78" y="800.88" font-size="26.2" stroke="#000" stroke-width="0.45">*</text>
<line x1="1321.30" y1="824.20" x2="1365.20" y2="824.20" stroke="#000" stroke-width="3.8" stroke-linecap="butt"/>
<text x="1321.93" y="829.58" font-size="26.2" stroke="#000" stroke-width="0.45">*</text>
<text x="1335.78" y="829.58" font-size="26.2" stroke="#000" stroke-width="0.45">*</text>
<text x="1349.63" y="829.58" font-size="26.2" stroke="#000" stroke-width="0.45">*</text>
<text x="1363.48" y="829.58" font-size="26.2" stroke="#000" stroke-width="0.45">*</text>
<text transform="translate(1.81,42.60) scale(1.0117,1)" font-size="43.17" font-weight="bold" fill="#000">A</text>
<text transform="translate(785.32,42.00) scale(1.0338,1)" font-size="41.72" font-weight="bold" fill="#000">B</text>
<text transform="translate(3.19,622.70) scale(0.9913,1)" font-size="42.12" font-weight="bold" fill="#000">C</text>
<text transform="translate(786.27,621.90) scale(0.9572,1)" font-size="42.59" font-weight="bold" fill="#000">D</text>
<text x="269.33" y="39.10" letter-spacing="1.501" font-size="38.92" font-weight="normal" fill="#000" stroke="#000" stroke-width="0.9">Without Light</text>
<text x="1082.23" y="30.80" letter-spacing="1.504" font-size="38.64" font-weight="normal" fill="#000" stroke="#000" stroke-width="0.9">With Light</text>
<text x="258.03" y="620.00" letter-spacing="1.559" font-size="38.92" font-weight="normal" fill="#000" stroke="#000" stroke-width="0.9">Without Light</text>
<text x="1080.23" y="620.30" letter-spacing="1.267" font-size="39.06" font-weight="normal" fill="#000" stroke="#000" stroke-width="0.9">With Light</text>
<text transform="translate(38.00,366.55) rotate(-90) scale(0.9769,1)" font-size="43.75" font-weight="bold" fill="#000">OD Value</text>
<text transform="translate(828.60,366.44) rotate(-90) scale(0.9648,1)" font-size="44.04" font-weight="bold" fill="#000">OD Value</text>
<text transform="translate(56.70,1000.91) rotate(-90) scale(0.8957,1)" font-size="43.75" font-weight="bold" fill="#000">Cell Viability (%)</text>
<text transform="translate(846.70,1000.91) rotate(-90) scale(0.8972,1)" font-size="43.75" font-weight="bold" fill="#000">Cell Viability (%)</text>
<text transform="translate(59.24,481.50) scale(0.915,1)" font-size="30.51" font-weight="bold">0.0</text>
<text transform="translate(849.54,481.50) scale(0.915,1)" font-size="30.51" font-weight="bold">0.0</text>
<text transform="translate(59.21,402.00) scale(0.915,1)" font-size="30.51" font-weight="bold">0.2</text>
<text transform="translate(849.51,402.28) scale(0.915,1)" font-size="30.51" font-weight="bold">0.2</text>
<text transform="translate(58.24,322.50) scale(0.915,1)" font-size="30.51" font-weight="bold">0.4</text>
<text transform="translate(848.54,323.06) scale(0.915,1)" font-size="30.51" font-weight="bold">0.4</text>
<text transform="translate(59.10,243.00) scale(0.915,1)" font-size="30.51" font-weight="bold">0.6</text>
<text transform="translate(849.40,243.84) scale(0.915,1)" font-size="30.51" font-weight="bold">0.6</text>
<text transform="translate(58.95,163.50) scale(0.915,1)" font-size="30.51" font-weight="bold">0.8</text>
<text transform="translate(849.25,164.62) scale(0.915,1)" font-size="30.51" font-weight="bold">0.8</text>
<text transform="translate(59.24,84.00) scale(0.915,1)" font-size="30.51" font-weight="bold">1.0</text>
<text transform="translate(849.54,85.40) scale(0.915,1)" font-size="30.51" font-weight="bold">1.0</text>
<text transform="translate(79.76,1049.67) scale(0.91,1)" font-size="28.67" font-weight="bold">0</text>
<text transform="translate(869.56,1049.67) scale(0.91,1)" font-size="28.67" font-weight="bold">0</text>
<text transform="translate(79.42,922.67) scale(0.91,1)" font-size="28.67" font-weight="bold">1</text>
<text transform="translate(869.22,922.84) scale(0.91,1)" font-size="28.67" font-weight="bold">1</text>
<text transform="translate(79.73,795.67) scale(0.91,1)" font-size="28.67" font-weight="bold">2</text>
<text transform="translate(869.53,796.01) scale(0.91,1)" font-size="28.67" font-weight="bold">2</text>
<text transform="translate(79.63,668.67) scale(0.91,1)" font-size="28.67" font-weight="bold">3</text>
<text transform="translate(869.43,669.18) scale(0.91,1)" font-size="28.67" font-weight="bold">3</text>
<text transform="translate(166.09,522.30) scale(0.8763,1)" font-size="34.23" font-weight="bold" fill="#000">Day 1</text>
<text transform="translate(360.89,522.30) scale(0.9350,1)" font-size="33.73" font-weight="bold" fill="#000">Day 3</text>
<text transform="translate(555.70,522.30) scale(0.9183,1)" font-size="34.23" font-weight="bold" fill="#000">Day 5</text>
<text transform="translate(956.49,523.00) scale(0.8744,1)" font-size="34.30" font-weight="bold" fill="#000">Day 1</text>
<text transform="translate(1151.29,523.00) scale(0.9330,1)" font-size="33.80" font-weight="bold" fill="#000">Day 3</text>
<text transform="translate(1346.30,523.00) scale(0.9163,1)" font-size="34.30" font-weight="bold" fill="#000">Day 5</text>
<text transform="translate(165.78,1086.10) scale(0.9240,1)" font-size="30.23" font-weight="bold" fill="#000">Day 1</text>
<text transform="translate(361.22,1086.10) scale(0.9709,1)" font-size="29.79" font-weight="bold" fill="#000">Day 3</text>
<text transform="translate(556.42,1086.10) scale(0.9536,1)" font-size="30.23" font-weight="bold" fill="#000">Day 5</text>
<text transform="translate(954.98,1086.10) scale(0.9330,1)" font-size="29.94" font-weight="bold" fill="#000">Day 1</text>
<text transform="translate(1150.52,1086.10) scale(0.9804,1)" font-size="29.50" font-weight="bold" fill="#000">Day 3</text>
<text transform="translate(1345.42,1086.10) scale(0.9628,1)" font-size="29.94" font-weight="bold" fill="#000">Day 5</text>
</g></svg>
</body></html>
